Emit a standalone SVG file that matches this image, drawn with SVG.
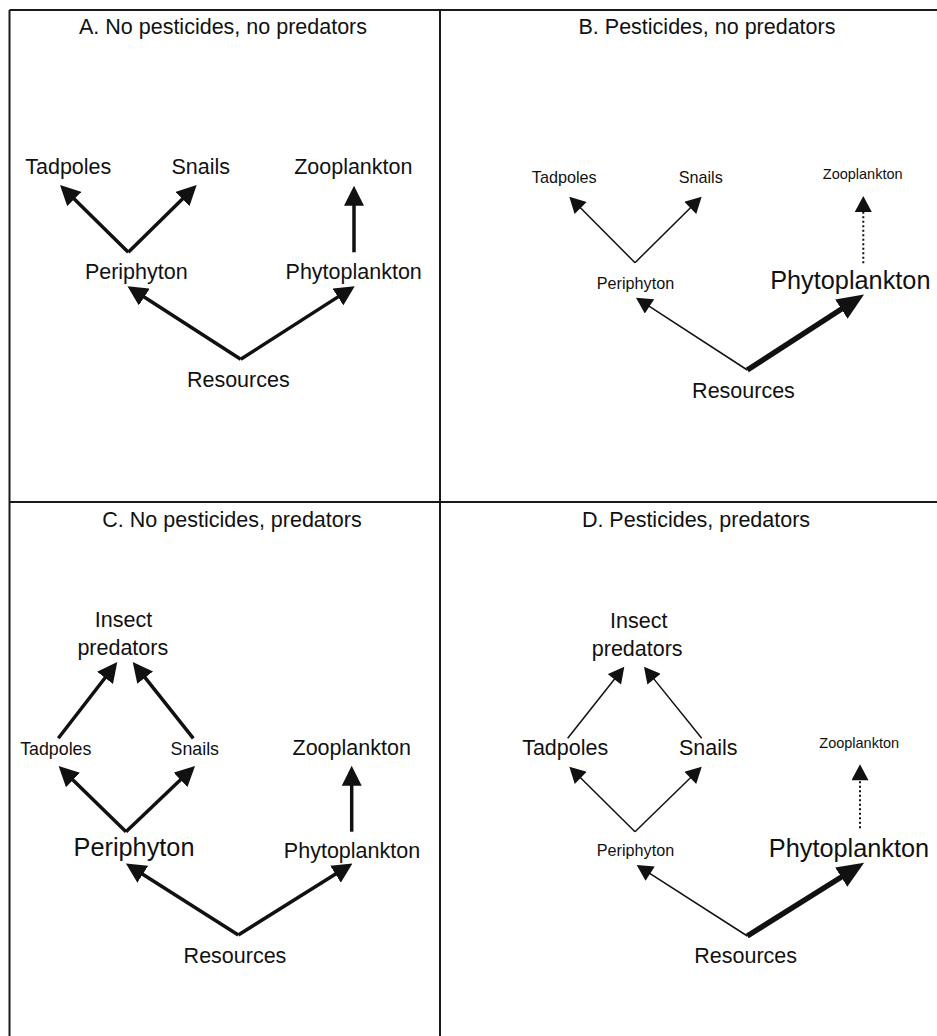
<svg xmlns="http://www.w3.org/2000/svg" width="937" height="1036" viewBox="0 0 937 1036">
<style>
text{font-family:"Liberation Sans",Arial,sans-serif;fill:#111;text-anchor:middle}
.n{font-size:21.5px}
.s{font-size:16.2px}
.m{font-size:17.8px}
.t{font-size:14.5px}
.b{font-size:25.3px}
.frame{stroke:#1a1a1a;stroke-width:2;fill:none}
.k{stroke:#111;stroke-width:3.5;fill:none;marker-end:url(#ah)}
.th{stroke:#111;stroke-width:1.5;fill:none;marker-end:url(#ahs)}
.bg{stroke:#111;stroke-width:5.5;fill:none;marker-end:url(#ahb)}
.dt{stroke:#111;stroke-width:2;stroke-dasharray:2 2.5;fill:none;marker-end:url(#ahs)}
</style>
<defs>
<marker id="ah" markerUnits="userSpaceOnUse" markerWidth="20" markerHeight="20" refX="1" refY="9.5" orient="auto" viewBox="0 0 19 19"><path d="M0,0 L19,9.5 L0,19 z" fill="#111"/></marker>
<marker id="ahs" markerUnits="userSpaceOnUse" markerWidth="17" markerHeight="17" refX="1" refY="8.5" orient="auto" viewBox="0 0 16 17"><path d="M0,0 L16,8.5 L0,17 z" fill="#111"/></marker>
<marker id="ahb" markerUnits="userSpaceOnUse" markerWidth="27" markerHeight="23" refX="2" refY="11" orient="auto" viewBox="0 0 26 22"><path d="M0,0 L26,11 L0,22 z" fill="#111"/></marker>
</defs>
<g id="frame">
<line class="frame" x1="9.5" y1="10" x2="937" y2="10"/>
<line class="frame" x1="9.5" y1="10" x2="9.5" y2="1036"/>
<line class="frame" x1="440" y1="10" x2="440" y2="1036"/>
<line class="frame" x1="9.5" y1="502" x2="937" y2="502"/>
</g>
<g id="titles">
<text class="n" x="223" y="34">A. No pesticides, no predators</text>
<text class="n" x="707" y="34">B. Pesticides, no predators</text>
<text class="n" x="232" y="527">C. No pesticides, predators</text>
<text class="n" x="696" y="527">D. Pesticides, predators</text>
</g>
<g id="connectors">
<line class="k" x1="128.3" y1="252.3" x2="73.5" y2="198.3"/>
<line class="k" x1="128.3" y1="252.3" x2="183.2" y2="198.3"/>
<line class="k" x1="354" y1="252.3" x2="354" y2="204.7"/>
<line class="k" x1="240.7" y1="359.3" x2="143.4" y2="296.5"/>
<line class="k" x1="240.7" y1="359.3" x2="338.8" y2="296.4"/>
<line class="th" x1="635" y1="262.7" x2="579.9" y2="207.3"/>
<line class="th" x1="635" y1="262.7" x2="691" y2="207.2"/>
<line class="dt" x1="863.3" y1="263.3" x2="863.3" y2="211"/>
<line class="th" x1="747.3" y1="370" x2="648.6" y2="305.9"/>
<line class="bg" x1="747.3" y1="370" x2="843.1" y2="308"/>
<line class="k" x1="58.3" y1="738.3" x2="105.7" y2="677"/>
<line class="k" x1="193.3" y1="738.3" x2="144.5" y2="676.8"/>
<line class="k" x1="126" y1="831.7" x2="72.2" y2="779.3"/>
<line class="k" x1="126" y1="831.7" x2="181.3" y2="779.1"/>
<line class="k" x1="351.7" y1="831.7" x2="351.7" y2="784.7"/>
<line class="k" x1="238.3" y1="935" x2="141.9" y2="873.7"/>
<line class="k" x1="238.3" y1="935" x2="336.4" y2="873.6"/>
<line class="th" x1="567.7" y1="738.3" x2="615" y2="678.5"/>
<line class="th" x1="701.7" y1="738.3" x2="653.4" y2="678.4"/>
<line class="th" x1="635" y1="831.7" x2="580" y2="777.2"/>
<line class="th" x1="635" y1="831.7" x2="691" y2="777.2"/>
<line class="dt" x1="860" y1="828.3" x2="860" y2="779.3"/>
<line class="th" x1="747.3" y1="936" x2="649.3" y2="873.1"/>
<line class="bg" x1="747.3" y1="936" x2="843" y2="876"/>
</g>
<g id="A-tadpoles"><text class="n" x="68.3" y="174">Tadpoles</text></g>
<g id="A-snails"><text class="n" x="200.8" y="174">Snails</text></g>
<g id="A-zooplankton"><text class="n" x="353.3" y="174">Zooplankton</text></g>
<g id="A-periphyton"><text class="n" x="136.3" y="279">Periphyton</text></g>
<g id="A-phytoplankton"><text class="n" x="353.7" y="279">Phytoplankton</text></g>
<g id="A-resources"><text class="n" x="238.3" y="386.5">Resources</text></g>
<g id="B-tadpoles"><text class="s" x="564.2" y="182.7">Tadpoles</text></g>
<g id="B-snails"><text class="s" x="700.7" y="182.7">Snails</text></g>
<g id="B-zooplankton"><text class="t" x="862.7" y="179">Zooplankton</text></g>
<g id="B-periphyton"><text class="s" x="635.5" y="288.7">Periphyton</text></g>
<g id="B-phytoplankton"><text class="b" x="850.3" y="288.7">Phytoplankton</text></g>
<g id="B-resources"><text class="n" x="743.5" y="398.3">Resources</text></g>
<g id="C-insect-predators"><text class="n" x="123.5" y="626.7">Insect</text><text class="n" x="122.8" y="654.5">predators</text></g>
<g id="C-tadpoles"><text class="m" x="55.8" y="755">Tadpoles</text></g>
<g id="C-snails"><text class="m" x="194.8" y="755">Snails</text></g>
<g id="C-zooplankton"><text class="n" x="351.7" y="755">Zooplankton</text></g>
<g id="C-periphyton"><text class="b" x="134" y="856">Periphyton</text></g>
<g id="C-phytoplankton"><text class="n" x="352" y="858.3">Phytoplankton</text></g>
<g id="C-resources"><text class="n" x="235" y="963.3">Resources</text></g>
<g id="D-insect-predators"><text class="n" x="638.7" y="628.3">Insect</text><text class="n" x="637.2" y="656">predators</text></g>
<g id="D-tadpoles"><text class="n" x="565.2" y="755">Tadpoles</text></g>
<g id="D-snails"><text class="n" x="708.3" y="755">Snails</text></g>
<g id="D-zooplankton"><text class="t" x="859.2" y="748.3">Zooplankton</text></g>
<g id="D-periphyton"><text class="s" x="635.5" y="856">Periphyton</text></g>
<g id="D-phytoplankton"><text class="b" x="849" y="857.3">Phytoplankton</text></g>
<g id="D-resources"><text class="n" x="745.7" y="963.3">Resources</text></g>
</svg>
